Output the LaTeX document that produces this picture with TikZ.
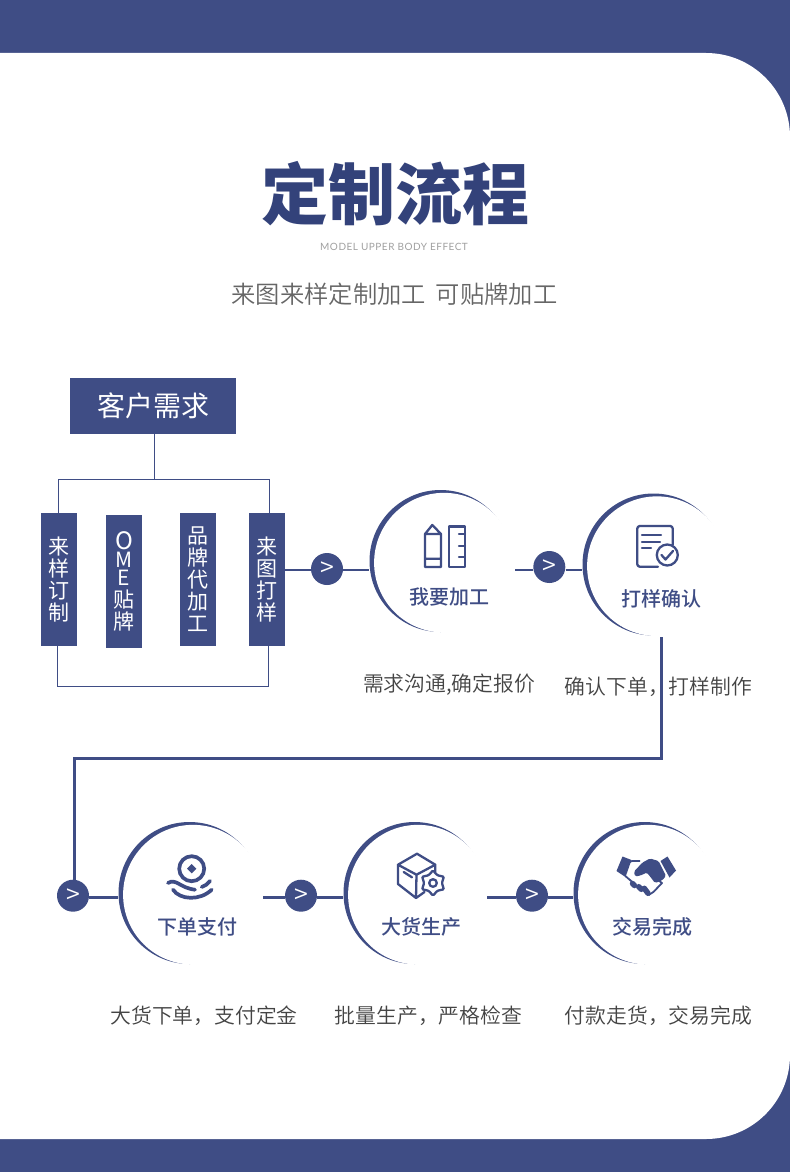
\documentclass[tikz,border=0pt]{standalone}
\usepackage{fontspec}
\setmainfont{Noto Sans CJK SC}
\newfontfamily\moyenCjk{Noto Sans CJK SC Medium}
\newfontfamily\legerCjk{Noto Sans CJK SC DemiLight}
\newfontfamily\latinFin[LetterSpace=5]{Lato}
\usepackage{xcolor}
\definecolor{fondBleu}{HTML}{3F4D85}
\definecolor{titreBleu}{HTML}{33427A}
\definecolor{texteGris}{HTML}{444444}
\definecolor{sousGris}{HTML}{666666}
\definecolor{fineGris}{HTML}{A0A0A0}
\usetikzlibrary{shapes.geometric}
\tikzset{
  %% ── Boites ──
  bloc/.style     = {fill=fondBleu, text=white, align=center, inner sep=0pt},
  blocCol/.style  = {bloc, minimum width=36pt, minimum height=133pt,
                     font=\fontsize{21}{22}\selectfont},
  etape/.style    = {circle, minimum size=142pt, inner sep=0pt},
  rond/.style     = {circle, fill=fondBleu, text=white, minimum size=32pt,
                     inner sep=0pt, font=\fontsize{25}{25}\selectfont\legerCjk},
  %% ── Traits ──
  cadre/.style    = {draw=fondBleu, line width=1pt},
  lien/.style     = {draw=fondBleu, line width=2.5pt},
  route/.style    = {draw=fondBleu, line width=3pt},
  icone/.style    = {draw=fondBleu, line width=2.3pt, line join=round, line cap=round},
  vague/.style    = {draw=fondBleu, line width=3.7pt, line cap=round},
  %% ── Textes ──
  legende/.style  = {font=\fontsize{20.8}{22}\selectfont\legerCjk, text=texteGris, inner sep=0pt},
  nomEtape/.style = {font=\fontsize{20}{22}\selectfont\moyenCjk, text=fondBleu, inner sep=0pt},
}

\begin{document}
\begin{tikzpicture}[x=1pt, y=-1pt]
\useasboundingbox (0,0) rectangle (790,1172);

%% Le fond et le panneau blanc.
\fill[fondBleu] (0,0) rectangle (790,1172);
\fill[white, rounded corners=84pt] (-200,53) -- (790,53) -- (790,1139) -- (-200,1139) -- cycle;

\node[font=\fontsize{67}{70}\selectfont\bfseries, text=titreBleu, inner sep=0pt] (titre) at (395,194) {定制流程};
\node[font=\fontsize{10}{12}\selectfont\latinFin, text=fineGris, inner sep=0pt] (sousTitre) at (394,247) {MODEL UPPER BODY EFFECT};
\node[font=\fontsize{24.3}{26}\selectfont\legerCjk, text=sousGris, inner sep=0pt] (accroche) at (394.5,294) {来图来样定制加工\hspace{10pt}可贴牌加工};

%% La demande et ses quatre colonnes.
\node[bloc, minimum width=166pt, minimum height=56pt, font=\fontsize{28}{30}\selectfont] (cli) at (153,406) {客户需求};
\node[blocCol] (lai) at (59,579.5) {来\\样\\订\\制};
\node[blocCol] (ome) at (124,581.5) {{\fontsize{24}{22}\selectfont O}\\[-4pt]M\\[-4pt]E\\贴\\牌};
\node[blocCol] (mar) at (198,579.5) {品\\牌\\代\\加\\工};
\node[blocCol] (tir) at (267,579.5) {来\\图\\打\\样};

\coordinate (hg) at (58.3,479);
\coordinate (hd) at (269.3,479);
\coordinate (bg) at (57.3,686);
\coordinate (bd) at (268.3,686);
\draw[cadre] (cli.south -| 154.3,0) -- (154.3,479);
\draw[cadre] (lai.north -| hg) -- (hg) -- (hd) -- (tir.north -| hd);
\draw[cadre] (lai.south -| bg) -- (bg) -- (bd) -- (tir.south -| bd);

%% Les cinq etapes : un disque plein, puis un disque blanc decale.
\foreach \nom/\x/\y in {usi/440.5/561, con/653.5/564.5, pai/189.5/893, pro/414.5/893, fin/644.5/893} {
  \fill[fondBleu] (\x,\y) circle (71pt);
  \fill[white] (\x+3.45,\y+1.68) circle (69.84pt);
  \node[etape] (\nom) at (\x,\y) {};
}

\node[rond] (b1) at (327,569) {>};
\node[rond] (b2) at (549.3,567) {>};
\node[rond] (b3) at (73,895.7) {>};
\node[rond] (b4) at (301,895.7) {>};
\node[rond] (b5) at (532,895.7) {>};

\coordinate (d1) at (285,570);
\coordinate (d2) at (515,570);
\coordinate (d4) at (263,897.3);
\coordinate (d5) at (487,897.3);
\foreach \d/\b/\e in {d1/b1/usi, d2/b2/con, d4/b4/pro, d5/b5/fin}
  \draw[lien] (\d) -- (\d -| \b.west) (\d -| \b.east) -- (\d -| \e.west);
\coordinate (d3) at (89,897.3);
\draw[lien] (d3) -- (d3 -| pai.west);

\coordinate (r0) at (661.5,637);
\coordinate (r1) at (661.5,758);
\coordinate (r2) at (74.3,758);
\draw[route] (r0) -- (r1) -- (r2) -- (r2 |- b3.north);

\node[nomEtape] (nUsi) at (449,597) {我要加工};
\node[nomEtape] (nCon) at (661.7,599) {打样确认};
\node[nomEtape] (nPai) at (197,927) {下单支付};
\node[nomEtape] (nPro) at (421,927) {大货生产};
\node[nomEtape] (nFin) at (652,927) {交易完成};

\node[legende] (lUsi) at (449,684.5) {需求沟通,确定报价};
\node[legende] (lCon) at (658.5,687) {确认下单，打样制作};
\node[legende] (lPai) at (204,1016) {大货下单，支付定金};
\node[legende] (lPro) at (428.5,1016) {批量生产，严格检查};
\node[legende] (lFin) at (658.5,1016) {付款走货，交易完成};

%% Crayon et regle.
\draw[icone] (425,567) -- (425,534) -- (432.3,525) -- (441,534) -- (441,567) -- cycle
  (425,534) -- (441,534) (425,558.7) -- (441,558.7);
\draw[icone] (449.3,526.5) rectangle (465,567)
  (459,534) -- (465,534) (459,546) -- (465,546) (459,557) -- (465,557);

%% Feuille et coche.
\draw[icone, rounded corners=2.5pt] (658,566.7) -- (637.3,566.7) -- (637.3,526) -- (672.7,526) -- (672.7,545);
\draw[icone] (642,535) -- (661,535) (642,541.7) -- (660,541.7) (642,548) -- (651,548);
\draw[icone] (667.3,555) circle (10.5pt);
\draw[icone] (661.5,555) -- (665.5,559.5) -- (673,551);

%% Piece et vagues.
\draw[vague] (191.7,868.7) circle (12.5pt);
\fill[fondBleu] (187,868.7) -- (191.7,864) -- (196.4,868.7) -- (191.7,873.4) -- cycle;
\draw[vague] (168,883) .. controls (176,878) and (180,888) .. (195,889.7);
\draw[vague] (201.7,887) .. controls (205,886) and (208,884) .. (210,881);
\draw[vague] (173,889.7) .. controls (180,900) and (200,901) .. (211.7,889.7);

%% Carton et engrenage.
\draw[icone] (424.5,892) -- (416,898) -- (398,884) -- (398,864.7) -- (417,853.7) -- (435.3,864.7) -- (435.3,872)
  (398,864.7) -- (416.5,874.7) -- (435.3,864.7) (416.5,874.7) -- (416,898)
  (403.7,872) -- (412,877.3);
\node[star, star points=6, star point ratio=1.4, draw=fondBleu, fill=white, line width=2.3pt,
      minimum size=25pt, inner sep=0pt, rounded corners=1pt] (eng) at (433,883) {};
\draw[icone] (eng.center) circle (3.8pt);

%% Poignee de mains.
\fill[fondBleu] (616.5,871) -- (622.5,856.5) -- (631.5,860) -- (625.5,877) -- cycle;
\fill[fondBleu] (660.5,861) -- (667.5,856.5) -- (676,870.5) -- (669.5,877.5) -- cycle;
\fill[fondBleu, rounded corners=1.5pt] (634,871.5) -- (642.5,862.5) -- (650,858.5) -- (658.5,861) -- (666,876)
  -- (662,880.5) -- (655,883) -- (647,872.5) -- (640.5,875.5) -- (635,876.5) -- cycle;
\draw[draw=fondBleu, line width=1.8pt, line join=round] (627,863.3) -- (632,861) -- (640,861) (625.3,876) -- (632,881.7)
  (648.7,873.3) -- (662,883) -- (653.7,891.7) -- (648.7,895);
\draw[draw=fondBleu, line width=5.5pt, line cap=round] (632.5,883.5) -- (634.5,885.5) (638.7,886.7) -- (641.3,889.3) (644.3,888.3) -- (648,893.3);

\end{tikzpicture}
\end{document}
